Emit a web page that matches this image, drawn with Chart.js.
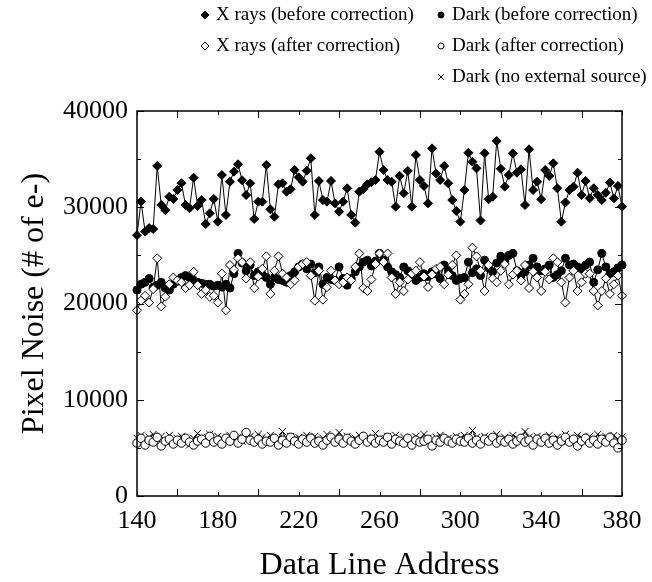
<!DOCTYPE html>
<html>
<head>
<meta charset="utf-8">
<script src="https://cdn.jsdelivr.net/npm/chart.js@4/dist/chart.umd.min.js"></script>
<style>
  html, body { margin: 0; padding: 0; background: #fff; }
  canvas { display: block; }
</style>
</head>
<body>
<canvas id="chart" width="652" height="582"></canvas>
<script>
const addresses = [
  140, 142, 144, 146, 148, 150, 152, 154, 156, 158,
  160, 162, 164, 166, 168, 170, 172, 174, 176, 178,
  180, 182, 184, 186, 188, 190, 192, 194, 196, 198,
  200, 202, 204, 206, 208, 210, 212, 214, 216, 218,
  220, 222, 224, 226, 228, 230, 232, 234, 236, 238,
  240, 242, 244, 246, 248, 250, 252, 254, 256, 258,
  260, 262, 264, 266, 268, 270, 272, 274, 276, 278,
  280, 282, 284, 286, 288, 290, 292, 294, 296, 298,
  300, 302, 304, 306, 308, 310, 312, 314, 316, 318,
  320, 322, 324, 326, 328, 330, 332, 334, 336, 338,
  340, 342, 344, 346, 348, 350, 352, 354, 356, 358,
  360, 362, 364, 366, 368, 370, 372, 374, 376, 378,
  380
];

const xraysBefore = [
  27100, 30600, 27460, 27840, 27740, 34290, 30230, 29700, 31100, 30860,
  31800, 32500, 30230, 29900, 33070, 30130, 30750, 28260, 29370, 30860,
  28500, 33350, 29200, 32650, 33700, 34460, 32800, 31270, 32490, 28780,
  30580, 30580, 34390, 29780, 29020, 32380, 32490, 31620, 31870, 33870,
  33110, 32650, 33800, 35080, 29200, 32730, 30750, 30580, 32730, 30410,
  29540, 30580, 31970, 29200, 28400, 31620, 31870, 32380, 32600, 32830,
  35770, 33870, 32830, 32650, 30060, 33250, 31450, 33770, 30060, 35430,
  32830, 32210, 30410, 36120, 33500, 32830, 34290, 32490, 30750, 29610,
  28500, 31790, 35670, 34730, 34040, 28620, 35600, 30830, 31100, 36880,
  34000, 32140, 33350, 35600, 33590, 33940, 30230, 36020, 31790, 32650,
  30830, 33870, 33250, 34560, 31970, 28500, 30500, 31790, 32140, 33590,
  31270, 32730, 30930, 31970, 31270, 30750, 31500, 32560, 30930, 32210,
  30060
];

const xraysAfter = [
  19300, 20300, 20800, 20100, 21500, 24700, 19700, 20700, 22000, 22700,
  22400, 22200, 21600, 21900, 23300, 21900, 21000, 21400, 20700, 20800,
  20100, 23100, 19300, 24000, 23500, 24700, 24300, 22600, 24300, 21600,
  22800, 23600, 24900, 21000, 23400, 24900, 23100, 22700, 22000, 22400,
  23800, 24100, 24300, 22900, 20300, 23400, 20400, 21700, 23400, 22400,
  22000, 22200, 22700, 22400, 23800, 25200, 21600, 21300, 22500, 24100,
  25200, 24300, 25200, 22700, 21000, 22200, 21300, 22500, 23100, 23400,
  24300, 22800, 21700, 23000, 23600, 23800, 22000, 23000, 24000, 25000,
  20400, 21000, 22000, 25800, 24900, 23400, 21300, 24000, 22600, 22200,
  23400, 24100, 22000, 23000, 23400, 22400, 24000, 21600, 23300, 22700,
  21300, 23300, 22500, 24700, 24300, 22200, 20100, 22700, 23400, 21300,
  22200, 23100, 23100, 21300, 19800, 21300, 22600, 21000, 22000, 22900,
  20800
];

const darkBefore = [
  21400, 22000, 22200, 22600, 21700, 21900, 22200, 21600, 21400, 22000,
  22300, 22700, 22900, 22700, 22400, 22200, 22100, 22000, 22000, 21800,
  21900, 21700, 22000, 21600, 23100, 25200, 24200, 23400, 24000, 22900,
  23300, 23000, 22700, 22000, 22700, 22500, 22400, 22200, 22900, 23300,
  23800, 24100, 23600, 24100, 23200, 23800, 22000, 22700, 22500, 22400,
  23800, 22600, 21900, 22600, 23300, 23800, 24300, 24500, 23900, 24400,
  25200, 24500, 23800, 23300, 23000, 22700, 23800, 23400, 22900, 22400,
  22700, 23100, 22800, 23300, 23100, 22600, 24000, 23400, 22900, 22400,
  22600, 22700, 24300, 23200, 23600, 22900, 24500, 23700, 23300, 24200,
  24900, 24300, 25000, 25200, 23400, 22900, 23300, 24000, 24700, 23800,
  23400, 23600, 24000, 22700, 23000, 23400, 24700, 24000, 24100, 23800,
  23600, 24000, 24300, 22200, 23500, 25200, 23800, 23100, 23300, 23700,
  24000
];

const darkAfter = [
  5500, 6000, 5300, 5800, 5600, 6100, 5200, 5700, 5900, 5400,
  5800, 5500, 6000, 5600, 5300, 5700, 5900, 5500, 6200, 5600,
  5800, 5400, 6000, 5700, 6300, 5500, 5900, 6600, 5800, 5600,
  5900, 5400, 5700, 5600, 6000, 5300, 5800, 5500, 6100, 5700,
  5400, 5900, 5600, 6000, 5500, 5700, 5300, 5800, 6100, 5600,
  5900, 5500, 6000, 5700, 5400, 5800, 6200, 5600, 5900, 5500,
  5800, 5600, 6100, 5400, 5900, 5700, 5500, 6000, 5300, 5800,
  5600, 5700, 5900, 5200, 5800, 5600, 6000, 5700, 5500, 5900,
  5700, 5600, 6000, 5500, 5800, 5400, 5900, 5700, 6100, 5500,
  5800, 5600, 5900, 5400, 5700, 6000, 5600, 5800, 5300, 5900,
  5600, 6000, 5500, 5800, 5300, 5700, 6100, 5600, 5900, 5200,
  5700, 6000, 5500, 5800, 5400, 5900, 5600, 6100, 5500, 5000,
  5800
];

const darkNoSource = [
  6000, 6300, 5800, 6100, 6400, 5900, 6200, 5700, 6300, 5600,
  6000, 6200, 5800, 5300, 6000, 6500, 6100, 5900, 6400, 5800,
  6200, 6000, 5800, 6300, 5900, 6100, 5700, 6000, 6200, 5800,
  6400, 6100, 5900, 6300, 5700, 6000, 6700, 5800, 6200, 5900,
  6100, 5800, 6300, 5900, 6200, 5700, 6000, 6400, 5800, 6100,
  6600, 5900, 6200, 5800, 6000, 6300, 5700, 6100, 5900, 6500,
  6000, 5800, 6200, 5900, 6300, 5700, 6100, 6000, 5800, 6200,
  5900, 6400, 6000, 5700, 6100, 6300, 5900, 6000, 5800, 6200,
  6000, 6300, 5900, 6800, 6100, 5800, 6200, 5900, 6000, 6400,
  5800, 6100, 5900, 6300, 6000, 5800, 6700, 6100, 5900, 6200,
  6000, 5800, 6300, 5900, 6100, 5700, 6400, 6000, 5800, 6300,
  6100, 5900, 6200, 5600, 6400, 6000, 6200, 5800, 6300, 5900,
  6100
];

const xTicks = [140, 180, 220, 260, 300, 340, 380];
const yTicks = [0, 10000, 20000, 30000, 40000];

const serif = '"Liberation Serif", "Times New Roman", serif';

const points = values => values.map((y, i) => ({ x: addresses[i], y }));

const series = (label, values, style, fill, radius) => ({
  label,
  data: points(values),
  showLine: true,
  borderColor: "#000",
  borderWidth: 1,
  pointStyle: style,
  pointRadius: radius,
  pointBackgroundColor: fill,
  pointBorderColor: "#000",
  pointBorderWidth: 1,
  clip: false
});

// legend laid out in two columns above the plot, like the figure
const legendLayout = [
  { x: 205, y: 15 },
  { x: 205, y: 46 },
  { x: 441, y: 15 },
  { x: 441, y: 46 },
  { x: 441, y: 77 }
];

const legendPlugin = {
  id: "figLegend",
  afterDraw(chart) {
    const ctx = chart.ctx;
    ctx.save();
    ctx.font = "19px " + serif;
    ctx.fillStyle = "#000";
    ctx.textBaseline = "middle";
    ctx.textAlign = "left";
    chart.data.datasets.forEach((ds, i) => {
      const pos = legendLayout[i];
      ctx.lineWidth = 1;
      ctx.strokeStyle = "#000";
      ctx.fillStyle = ds.pointBackgroundColor;
      Chart.helpers.drawPoint(ctx, {
        pointStyle: ds.pointStyle,
        radius: ds.pointStyle === "circle" ? 3 : 4,
        rotation: 0,
        borderWidth: 1
      }, pos.x, pos.y);
      ctx.fillStyle = "#000";
      ctx.fillText(ds.label, pos.x + 11, pos.y);
    });
    ctx.restore();
  }
};

// closed frame with inward ticks on all four sides
const framePlugin = {
  id: "frame",
  afterDatasetsDraw(chart) {
    const { ctx, chartArea: a, scales } = chart;
    ctx.save();
    ctx.strokeStyle = "#000";
    ctx.lineWidth = 1.5;
    ctx.strokeRect(a.left, a.top, a.right - a.left, a.bottom - a.top);
    ctx.lineWidth = 1;
    ctx.beginPath();
    for (let v = 140; v <= 380; v += 20) {
      const px = Math.round(scales.x.getPixelForValue(v)) + 0.5;
      const len = v % 40 === 20 ? 4 : 7;
      ctx.moveTo(px, a.bottom); ctx.lineTo(px, a.bottom - len);
      ctx.moveTo(px, a.top); ctx.lineTo(px, a.top + len);
    }
    for (let v = 0; v <= 40000; v += 5000) {
      const py = Math.round(scales.y.getPixelForValue(v)) + 0.5;
      const len = v % 10000 === 5000 ? 4 : 7;
      ctx.moveTo(a.left, py); ctx.lineTo(a.left + len, py);
      ctx.moveTo(a.right, py); ctx.lineTo(a.right - len, py);
    }
    ctx.stroke();
    ctx.restore();
  }
};

new Chart(document.getElementById("chart"), {
  type: "line",
  data: {
    datasets: [
      series("X rays (before correction)", xraysBefore, "rectRot", "#000", 4.5),
      series("X rays (after correction)", xraysAfter, "rectRot", "#fff", 4.5),
      series("Dark (before correction)", darkBefore, "circle", "#000", 4),
      series("Dark (after correction)", darkAfter, "circle", "#fff", 4.2),
      series("Dark (no external source)", darkNoSource, "crossRot", "#000", 5)
    ]
  },
  options: {
    responsive: false,
    animation: false,
    devicePixelRatio: 1,
    layout: { padding: { top: 111, right: 30, left: 0, bottom: 0 } },
    plugins: { legend: { display: false }, tooltip: { enabled: false } },
    scales: {
      x: {
        type: "linear",
        min: 140,
        max: 380,
        afterFit: scale => { scale.height = 86; },
        afterBuildTicks: scale => { scale.ticks = xTicks.map(value => ({ value })); },
        grid: { display: false, drawTicks: false },
        border: { display: false },
        ticks: { color: "#000", padding: 10, maxRotation: 0, font: { family: serif, size: 26 } },
        title: {
          display: true,
          text: "Data Line Address",
          color: "#000",
          font: { family: serif, size: 32, lineHeight: 1 },
          padding: { top: 0, bottom: 0 }
        }
      },
      y: {
        min: 0,
        max: 40000,
        afterFit: scale => { scale.width = 137; },
        afterBuildTicks: scale => { scale.ticks = yTicks.map(value => ({ value })); },
        grid: { display: false, drawTicks: false },
        border: { display: false },
        ticks: { color: "#000", padding: 9, callback: v => String(v), font: { family: serif, size: 26 } },
        title: {
          display: true,
          text: "Pixel Noise (# of e-)",
          color: "#000",
          font: { family: serif, size: 32, lineHeight: 1 },
          padding: { top: 19, bottom: 0 }
        }
      }
    }
  },
  plugins: [framePlugin, legendPlugin]
});
</script>
</body>
</html>
